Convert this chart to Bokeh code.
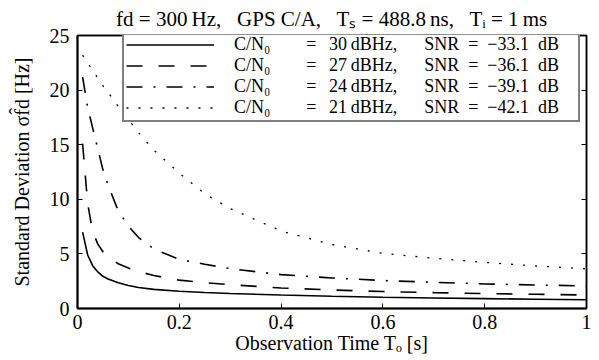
from bokeh.plotting import figure
from bokeh.models import Legend, LegendItem, FixedTicker, Range1d, LinearAxis
from bokeh.embed import file_html
from bokeh.resources import INLINE

# ---------------- data ----------------
obs_time = [0.01, 0.02, 0.03, 0.04, 0.05, 0.06, 0.08, 0.10, 0.12, 0.15,
            0.20, 0.25, 0.30, 0.40, 0.50, 0.60, 0.70, 0.80, 0.90, 1.00]
sd_cn30 = [7.0, 4.9, 3.9, 3.35, 2.95, 2.7, 2.35, 2.1, 1.92, 1.75,
           1.58, 1.47, 1.38, 1.23, 1.12, 1.03, 0.96, 0.90, 0.85, 0.80]
sd_cn27 = [15.1, 9.6, 7.0, 5.9, 5.2, 4.7, 4.1, 3.7, 3.38, 3.02,
           2.6, 2.36, 2.18, 1.88, 1.70, 1.55, 1.45, 1.37, 1.30, 1.24]
sd_cn24 = [21.2, 18.4, 16.5, 14.6, 12.7, 11.3, 8.95, 7.55, 6.5, 5.45,
           4.5, 4.05, 3.65, 3.1, 2.8, 2.56, 2.4, 2.25, 2.15, 2.07]
sd_cn21 = [23.2, 22.5, 21.8, 21.1, 20.4, 19.8, 18.5, 17.3, 16.1, 14.5,
           12.4, 10.5, 9.15, 7.1, 5.85, 5.05, 4.6, 4.22, 3.9, 3.63]

cn0_dbhz = ["30", "27", "24", "21"]
snr_db = ["33.1", "36.1", "39.1", "42.1"]
series_labels = [
    f"C/N\u2080\u2003\u2003=\u2002\u2009{c}\u2009dBHz,\u2003\u2002SNR\u2002=\u2002\u2212{s}\u2002dB"
    for c, s in zip(cn0_dbhz, snr_db)
]
title_text = "fd = 300\u2009Hz,\u2002 GPS C/A,\u2002 T\u209b = 488.8\u2009ns,\u2002 T\u1d62 = 1\u2009ms"
x_label = "Observation Time T\u2092 [s]"
y_label = "Standard Deviation \u03c3f\u0302d [Hz]"
x_ticks = [0, 0.2, 0.4, 0.6, 0.8, 1.0]
x_tick_labels = ["0", "0.2", "0.4", "0.6", "0.8", "1"]
y_ticks = [0, 5, 10, 15, 20, 25]
y_tick_labels = ["0", "5", "10", "15", "20", "25"]

# ---------------- layout ----------------
FONT = "Liberation Serif"
W, H = 599, 360
FL, FR, FT, FB = 77, 586, 34, 308

p = figure(width=W, height=H, x_range=Range1d(0, 1), y_range=Range1d(0, 25),
           output_backend="svg", toolbar_location=None, title=title_text,
           min_border_left=FL, min_border_right=W - FR,
           min_border_top=FT, min_border_bottom=H - FB)
p.title.text_font = FONT
p.title.text_font_size = "21px"
p.title.text_font_style = "normal"
p.title.text_color = "black"
p.title.align = "center"
p.title.standoff = 9
p.xgrid.visible = False
p.ygrid.visible = False
p.background_fill_color = "white"
p.border_fill_color = "white"
p.outline_line_color = "black"
p.outline_line_width = 1.5


def style_axis(ax, ticks, labels, standoff, label=None, label_standoff=0):
    ax.ticker = FixedTicker(ticks=ticks)
    ax.major_label_overrides = {t: l for t, l in zip(ticks, labels)}
    ax.major_label_text_font = FONT
    ax.major_label_text_font_size = "20px"
    ax.major_label_text_color = "black"
    ax.major_label_standoff = standoff
    ax.major_tick_in = 5
    ax.major_tick_out = 0
    ax.minor_tick_in = 0
    ax.minor_tick_out = 0
    ax.major_tick_line_color = "black"
    ax.axis_line_color = "black"
    ax.axis_line_width = 2
    if label is not None:
        ax.axis_label = label
        ax.axis_label_text_font = FONT
        ax.axis_label_text_font_size = "20px"
        ax.axis_label_text_font_style = "normal"
        ax.axis_label_text_color = "black"
        ax.axis_label_standoff = label_standoff


style_axis(p.xaxis[0], x_ticks, x_tick_labels, 6, x_label, 0)
style_axis(p.yaxis[0], y_ticks, y_tick_labels, 8, y_label, 14)

# mirror ticks on the top and right edges (no labels)
top_ax = LinearAxis()
right_ax = LinearAxis()
style_axis(top_ax, x_ticks, ["" for _ in x_ticks], 0)
style_axis(right_ax, y_ticks, ["" for _ in y_ticks], 0)
top_ax.axis_line_width = 1.5
right_ax.axis_line_width = 1.5
p.add_layout(top_ax, "above")
p.add_layout(right_ax, "right")

# ---------------- curves ----------------
r1 = p.line(obs_time, sd_cn30, line_color="black", line_width=1.6)
r2 = p.line(obs_time, sd_cn27, line_color="black", line_width=1.6, line_dash="16 16")
r3 = p.line(obs_time, sd_cn24, line_color="black", line_width=1.6, line_dash="16 11 2 11")
r4 = p.line(obs_time, sd_cn21, line_color="black", line_width=1.3, line_dash="2 10")

legend = Legend(items=[LegendItem(label=lab, renderers=[r])
                       for lab, r in zip(series_labels, [r1, r2, r3, r4])],
                location=(45, 186))
legend.label_text_font = FONT
legend.label_text_font_size = "18px"
legend.label_text_color = "black"
legend.glyph_width = 88
legend.glyph_height = 17
legend.label_height = 17
legend.label_standoff = 20
legend.label_width = 342
legend.spacing = 0
legend.padding = 2
legend.margin = 0
legend.border_line_color = "black"
legend.border_line_width = 2
legend.background_fill_color = "white"
legend.background_fill_alpha = 1.0
p.add_layout(legend)

open("out.html", "w").write(file_html(p, INLINE))
